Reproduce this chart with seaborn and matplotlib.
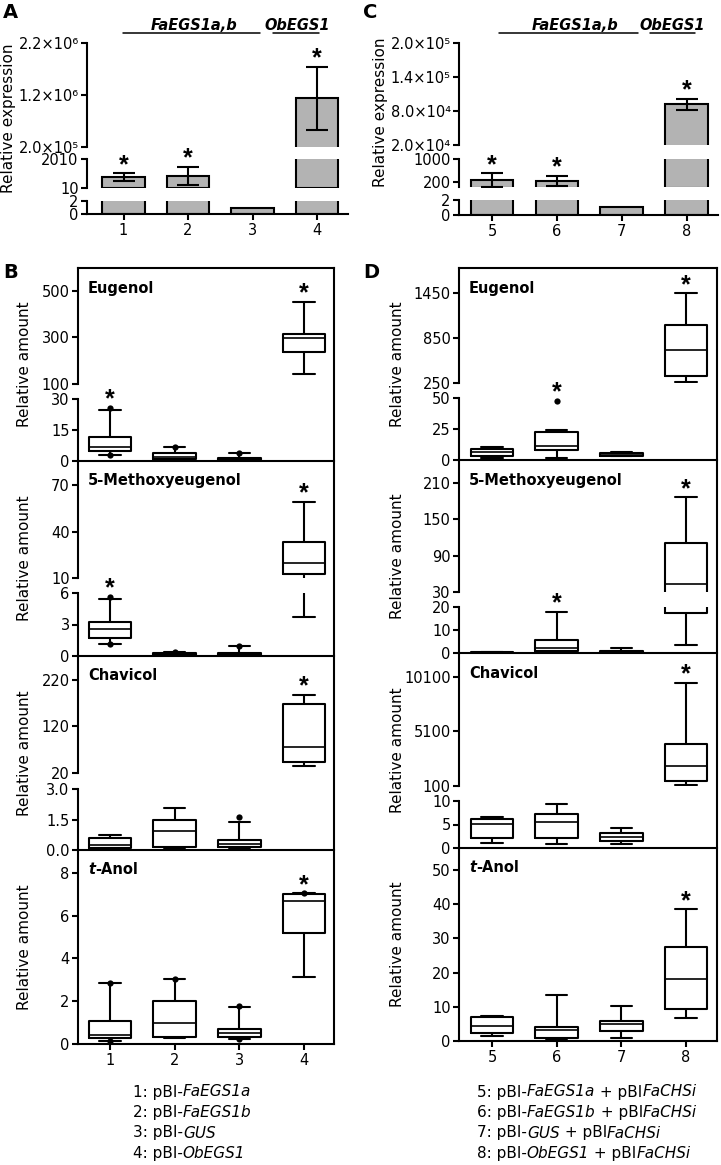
import numpy as np
import pandas as pd
import matplotlib
matplotlib.use("Agg")
import matplotlib.pyplot as plt
import seaborn as sns

# ---------------- data ----------------
# qRT-PCR relative expression (panels A and C): mean and error half-width
constructs_A = ["1", "2", "3", "4"]
expr_A = [770, 840, 1, 1140000]
err_A = [245, 620, 0, 605000]
stars_A = ["1", "2", "4"]

constructs_C = ["5", "6", "7", "8"]
expr_C = [270, 235, 1, 92000]
err_C = [230, 175, 0, 9500]
stars_C = ["5", "6", "8"]

# box plots (panels B and D): whisker low, Q1, median, Q3, whisker high
groups_B = ["1", "2", "3", "4"]
eugenol_B = [[2.9, 4.8, 6.8, 11.6, 24.7], [0.5, 1.0, 1.9, 3.9, 6.8],
             [0.2, 0.5, 1.0, 1.5, 3.9], [143, 236, 296, 313, 453]]
eugenol_B_dots = [("1", 25.6), ("1", 2.9), ("2", 6.8), ("3", 3.9)]
methoxy_B = [[1.1, 1.7, 2.6, 3.2, 5.4], [0.05, 0.1, 0.2, 0.3, 0.4],
             [0.05, 0.1, 0.15, 0.3, 1.0], [3.7, 12.6, 19.7, 33, 59]]
methoxy_B_dots = [("1", 5.6), ("1", 1.1), ("2", 0.4), ("3", 1.0)]
chavicol_B = [[0.02, 0.1, 0.25, 0.6, 0.74], [0.05, 0.15, 0.93, 1.5, 2.07],
              [0.05, 0.15, 0.3, 0.5, 1.4], [35, 44, 76, 168, 188]]
chavicol_B_dots = [("1", 0.0), ("3", 1.6)]
tanol_B = [[0.14, 0.28, 0.42, 1.08, 2.85], [0.28, 0.33, 0.98, 2.0, 3.04],
           [0.25, 0.33, 0.5, 0.7, 1.73], [3.13, 5.18, 6.68, 7.0, 7.05]]
tanol_B_dots = [("1", 2.85), ("1", 0.14), ("2", 3.04), ("3", 1.78), ("3", 0.25), ("4", 7.05)]

groups_D = ["5", "6", "7", "8"]
eugenol_D = [[1.6, 3.2, 6.5, 8.9, 10.5], [1.6, 8.0, 11.3, 22.6, 24.2],
             [3.0, 3.5, 4.5, 5.5, 6.5], [263, 341, 692, 1017, 1440]]
eugenol_D_dots = [("6", 47.6)]
methoxy_D = [[0.1, 0.2, 0.3, 0.4, 0.5], [0.4, 0.9, 2.2, 5.7, 17.8],
             [0.1, 0.3, 0.5, 0.9, 2.2], [3.5, 17.4, 43, 110, 186]]
chavicol_D = [[1.1, 2.1, 5.1, 6.2, 6.6], [0.9, 2.1, 5.5, 7.2, 9.4],
              [0.9, 1.5, 2.3, 3.2, 4.3], [190, 560, 1934, 3950, 9545]]
tanol_D = [[1.5, 2.4, 4.4, 7.0, 7.3], [0.6, 0.9, 3.3, 4.1, 13.5],
           [1.0, 3.0, 4.9, 5.9, 10.1], [6.7, 9.4, 18.1, 27.4, 38.5]]

legend_B = [[("1: pBI-", "normal"), ("FaEGS1a", "italic")],
            [("2: pBI-", "normal"), ("FaEGS1b", "italic")],
            [("3: pBI-", "normal"), ("GUS", "italic")],
            [("4: pBI-", "normal"), ("ObEGS1", "italic")]]
legend_D = [[("5: pBI-", "normal"), ("FaEGS1a", "italic"), (" + pBI", "normal"), ("FaCHSi", "italic")],
            [("6: pBI-", "normal"), ("FaEGS1b", "italic"), (" + pBI", "normal"), ("FaCHSi", "italic")],
            [("7: pBI-", "normal"), ("GUS", "italic"), (" + pBI", "normal"), ("FaCHSi", "italic")],
            [("8: pBI-", "normal"), ("ObEGS1", "italic"), (" + pBI", "normal"), ("FaCHSi", "italic")]]

# ---------------- style ----------------
sns.set_style("ticks")
plt.rcParams["font.family"] = ["DejaVu Sans"]
plt.rcParams.update({
    "axes.linewidth": 1.5,
    "xtick.major.width": 1.5, "ytick.major.width": 1.5,
    "xtick.major.size": 4.5, "ytick.major.size": 4.5,
    "xtick.major.pad": 2, "ytick.major.pad": 1.5,
    "xtick.labelsize": 10.5, "ytick.labelsize": 10.5,
    "xtick.color": "black", "ytick.color": "black",
    "axes.edgecolor": "black", "text.color": "black",
})
STAR = dict(fontsize=18, fontweight="bold", family="Liberation Sans")

W, H = 721, 1165
fig = plt.figure(figsize=(W / 100, H / 100), dpi=100)


def add_ax(x0, x1, top, bot):
    ax = fig.add_axes([x0 / W, 1 - bot / H, (x1 - x0) / W, (bot - top) / H])
    ax.patch.set_visible(False)
    return ax


def tick_labels(ticks):
    if any(t != int(t) for t in ticks):
        return [f"{t:.1f}" for t in ticks]
    return [str(int(t)) for t in ticks]


def draw_bars(groups, vals, errs, stars, segs, x0, x1, xlim):
    df = pd.DataFrame({"construct": groups, "expr": vals, "err": errs,
                       "pos": np.arange(len(groups))})
    axes = []
    for k, (top, bot, ylim, ticks, labels) in enumerate(segs):
        ax = add_ax(x0, x1, top, bot)
        seg = df[df["expr"] > ylim[0]]          # only bars that reach this segment
        sns.barplot(data=seg, x="construct", y="expr", order=groups, color="#b3b3b3",
                    saturation=1, edgecolor="black", linewidth=1.5, width=0.66,
                    errorbar=None, ax=ax)
        eb = seg[seg["err"] > 0]
        ax.errorbar(eb["pos"], eb["expr"], yerr=eb["err"], fmt="none", ecolor="black",
                    elinewidth=1.5, capsize=8, capthick=1.5)
        ax.set_xlim(xlim)
        ax.set_ylim(ylim)
        ax.set_yticks(ticks, labels)
        ax.set_xlabel("")
        ax.set_ylabel("")
        last = k == len(segs) - 1
        ax.spines[["top", "right"]].set_visible(False)
        ax.spines["bottom"].set_visible(last)
        if not last:
            ax.tick_params(axis="x", length=0, labelbottom=False)
        axes.append((ax, ylim))
    for g in stars:
        i = groups.index(g)
        top = vals[i] + errs[i]
        for ax, ylim in axes:
            if ylim[0] <= top <= ylim[1]:
                ax.annotate("*", (i, top), xytext=(0, 1), textcoords="offset points",
                            ha="center", va="baseline", annotation_clip=False, **STAR)
                break


def draw_compound(groups, stats, dots, stars, segs, x0, x1, xlim, bottom_axis):
    long_df = pd.DataFrame({"construct": np.repeat(groups, 5),
                            "value": np.concatenate(stats),
                            "gmax": np.repeat([s[4] for s in stats], 5)})
    dot_df = pd.DataFrame(dots, columns=["construct", "value"])
    axes = []
    for k, (top, bot, ylim, ticks) in enumerate(segs):
        ax = add_ax(x0, x1, top, bot)
        seg = long_df[long_df["gmax"] > ylim[0]]   # only boxes that reach this segment
        sns.boxplot(data=seg, x="construct", y="value", order=groups, whis=(0, 100),
                    width=0.66, fill=False, color="black", linewidth=1.5,
                    showfliers=False, medianprops={"linewidth": 1.2}, ax=ax)
        seg_dots = dot_df[dot_df["value"] >= ylim[0]]
        if len(seg_dots):
            sns.stripplot(data=seg_dots, x="construct", y="value", order=groups,
                          jitter=False, color="black", size=4.5, zorder=4, ax=ax)
        ax.set_xlim(xlim)
        ax.set_ylim(ylim)
        ax.set_yticks(ticks, tick_labels(ticks))
        ax.set_xlabel("")
        ax.set_ylabel("")
        last = k == len(segs) - 1
        ax.spines[["top", "right"]].set_visible(False)
        ax.spines["bottom"].set_visible(last)
        if not (last and bottom_axis):
            ax.tick_params(axis="x", length=0, labelbottom=False)
        axes.append((ax, ylim))
    for g in stars:
        i = groups.index(g)
        top = max([stats[i][4]] + [v for c, v in dots if c == g])
        for ax, ylim in axes:
            if ylim[0] <= top <= ylim[1]:
                ax.annotate("*", (i, top), xytext=(0, 1), textcoords="offset points",
                            ha="center", va="baseline", annotation_clip=False, **STAR)
                break


# ---------------- panels A and C (broken bar charts) ----------------
draw_bars(constructs_A, expr_A, err_A, stars_A,
          [(43, 147, (2e5, 2.2e6), [2e5, 1.2e6, 2.2e6],
            ["2.0×10⁵", "1.2×10⁶", "2.2×10⁶"]),
           (159, 188, (10, 2010), [10, 2010], ["10", "2010"]),
           (201, 214, (0, 2), [0, 2], ["0", "2"])],
          87, 348, (-0.566, 3.48))
draw_bars(constructs_C, expr_C, err_C, stars_C,
          [(43, 145, (2e4, 2e5), [2e4, 8e4, 1.4e5, 2e5],
            ["2.0×10⁴", "8.0×10⁴", "1.4×10⁵", "2.0×10⁵"]),
           (159, 187, (26, 1000), [200, 1000], ["200", "1000"]),
           (200, 215, (0, 2), [0, 2], ["0", "2"])],
          459, 718, (-0.508, 3.48))

# ---------------- panels B and D (broken box plots) ----------------
compounds_B = [
    ("Eugenol", eugenol_B, eugenol_B_dots, ["1", "4"],
     [(268, 384, (100, 598), [100, 300, 500]), (399, 461, (0, 30), [0, 15, 30])]),
    ("5-Methoxyeugenol", methoxy_B, methoxy_B_dots, ["1", "4"],
     [(461, 578, (10, 85.5), [10, 40, 70]), (593, 656, (0, 6), [0, 3, 6])]),
    ("Chavicol", chavicol_B, chavicol_B_dots, ["4"],
     [(656, 773, (20, 271.6), [20, 120, 220]), (789, 850, (0, 3), [0.0, 1.5, 3.0])]),
    ("t-Anol", tanol_B, tanol_B_dots, ["4"],
     [(850, 1044, (0, 9.07), [0, 2, 4, 6, 8])]),
]
compounds_D = [
    ("Eugenol", eugenol_D, eugenol_D_dots, ["6", "8"],
     [(268, 383, (250, 1775), [250, 850, 1450]), (398, 460, (0, 50), [0, 25, 50])]),
    ("5-Methoxyeugenol", methoxy_D, [], ["6", "8"],
     [(460, 592, (30, 247.7), [30, 90, 150, 210]), (607, 653, (0, 20), [0, 10, 20])]),
    ("Chavicol", chavicol_D, [], ["8"],
     [(653, 786, (100, 12300), [100, 5100, 10100]), (801, 848, (0, 10), [0, 5, 10])]),
    ("t-Anol", tanol_D, [], ["8"],
     [(848, 1041, (0, 56.4), [0, 10, 20, 30, 40, 50])]),
]

overlay = fig.add_axes([0, 0, 1, 1])
overlay.axis("off")
overlay.set_xlim(0, W)
overlay.set_ylim(H, 0)


def rich_text(x, y, pieces, weight="normal", size=11):
    t = overlay.text(x, y, pieces[0][0], fontstyle=pieces[0][1], fontweight=weight,
                     fontsize=size, ha="left", va="center")
    for txt, st in pieces[1:]:
        t = overlay.annotate(txt, xy=(1, 0), xycoords=t, ha="left", va="bottom",
                             fontstyle=st, fontweight=weight, fontsize=size)


for groups, compounds, x0, x1, xlim, ylab_x, legend, leg_x in [
        (groups_B, compounds_B, 78, 334, (-0.495, 3.464), 25, legend_B, 133),
        (groups_D, compounds_D, 459, 717, (-0.51, 3.48), 398, legend_D, 477)]:
    bottom = compounds[-1][4][-1][1]
    frame = add_ax(x0, x1, 268, bottom)
    frame.set_xticks([])
    frame.set_yticks([])
    frame.spines[["left", "bottom"]].set_visible(False)
    for k, (name, stats, dots, stars, segs) in enumerate(compounds):
        draw_compound(groups, stats, dots, stars, segs, x0, x1, xlim,
                      k == len(compounds) - 1)
        top = segs[0][0]
        if name == "t-Anol":
            rich_text(x0 + 10, top + 20, [("t", "italic"), ("-Anol", "normal")],
                      weight="bold", size=10.5)
        else:
            overlay.text(x0 + 10, top + 20, name, fontweight="bold", fontsize=10.5,
                         ha="left", va="center")
        overlay.text(ylab_x, (top + segs[-1][1]) / 2, "Relative amount", rotation=90,
                     ha="center", va="center", fontsize=11)
    for j, line in enumerate(legend):
        rich_text(leg_x, 1092 + j * 20.5, line)

# axis titles and gene labels for A / C
overlay.text(9, 118, "Relative expression", rotation=90, ha="center", va="center", fontsize=11)
overlay.text(381, 112, "Relative expression", rotation=90, ha="center", va="center", fontsize=11)
for fa_x, line_x, ob_x, ul_x in [(194, (123, 260), 297, (273, 319)),
                                 (575, (499, 638), 672, (650, 695))]:
    overlay.text(fa_x, 25, "FaEGS1a,b", fontweight="bold", fontstyle="italic",
                 fontsize=10.5, ha="center", va="center")
    overlay.text(ob_x, 25, "ObEGS1", fontweight="bold", fontstyle="italic",
                 fontsize=10.5, ha="center", va="center")
    overlay.plot(line_x, [33, 33], color="black", lw=1.1)
    overlay.plot(ul_x, [33, 33], color="black", lw=1.1)

for lab, x, y in [("A", 3, 12), ("B", 3, 272), ("C", 363, 12), ("D", 363, 272)]:
    overlay.text(x, y, lab, fontweight="bold", fontsize=14, ha="left", va="center")

fig.savefig("out.png", dpi=100)
